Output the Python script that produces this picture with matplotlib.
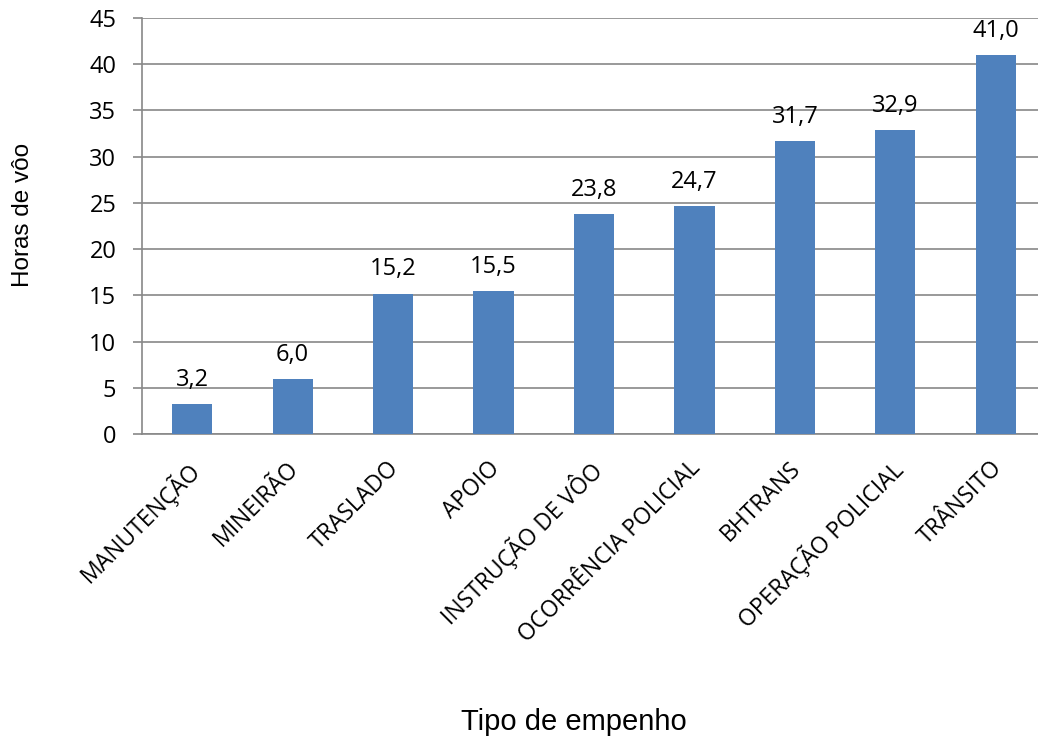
import matplotlib.pyplot as plt
from matplotlib.transforms import ScaledTranslation

# horas de vôo por tipo de empenho
categorias = ['MANUTENÇÃO', 'MINEIRÃO', 'TRASLADO', 'APOIO', 'INSTRUÇÃO DE VÔO',
              'OCORRÊNCIA POLICIAL', 'BHTRANS', 'OPERAÇÃO POLICIAL', 'TRÂNSITO']
horas = [3.2, 6.0, 15.2, 15.5, 23.8, 24.7, 31.7, 32.9, 41.0]
yticks = [0, 5, 10, 15, 20, 25, 30, 35, 40, 45]

fig = plt.figure(figsize=(10.38, 7.42), dpi=100)
ax = fig.add_axes([0.1368, 0.415, 0.8709, 0.5608])

x = list(range(len(categorias)))
ax.bar(x, horas, width=0.4, color='#4f81bd', zorder=3)
ax.set_xlim(-0.5, len(categorias) - 0.5)
ax.set_ylim(0, 45)
ax.set_yticks(yticks)
ax.yaxis.grid(True, color='#888888', linewidth=1.2, zorder=0)

for s in ['top', 'right']:
    ax.spines[s].set_visible(False)
for s in ['left', 'bottom']:
    ax.spines[s].set_color('#888888')
    ax.spines[s].set_linewidth(1.2)

fonte = 'Open Sans'
ax.tick_params(axis='y', length=6.5, width=1.2, color='#888888', labelsize=17, pad=12)
ax.tick_params(axis='x', length=0, pad=16)
for t in ax.get_yticklabels():
    t.set_fontfamily(fonte)

ax.set_xticks(x)
ax.set_xticklabels(categorias, rotation=45, ha='right', va='top',
                   rotation_mode='anchor', fontsize=16.5, family=fonte)
desloc = ScaledTranslation(-6 / 100, 0, fig.dpi_scale_trans)
for t in ax.get_xticklabels():
    t.set_transform(t.get_transform() + desloc)

# rótulos de valor acima das barras
for xi, v in zip(x, horas):
    ax.annotate(f'{v:.1f}'.replace('.', ','), (xi, v), xytext=(0, 13),
                textcoords='offset points', ha='center', va='baseline',
                fontsize=17, family=fonte)

fig.text(0.022, 0.71, 'Horas de vôo', rotation=90, ha='center', va='center',
         fontsize=17.5, family='Liberation Sans')
fig.text(0.553, 0.027, 'Tipo de empenho', ha='center', va='center',
         fontsize=21, family='Liberation Sans')

fig.savefig('out.png', dpi=100)
